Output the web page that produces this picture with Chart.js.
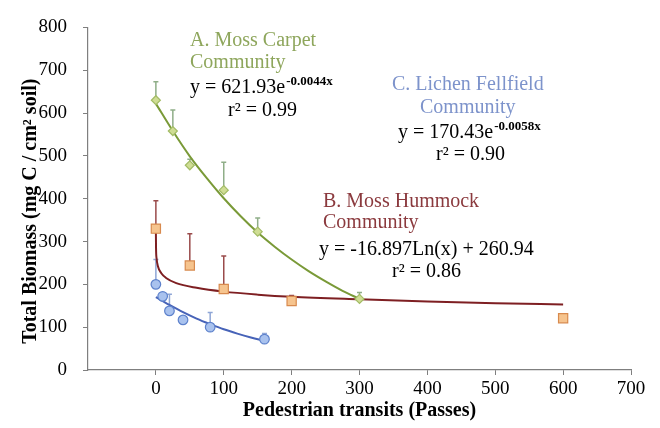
<!DOCTYPE html>
<html>
<head>
<meta charset="utf-8">
<script src="https://cdn.jsdelivr.net/npm/chart.js@4"></script>
<style>
  html, body { margin: 0; padding: 0; background: #ffffff; }
  #wrap { width: 660px; height: 428px; }
</style>
</head>
<body>
<div id="wrap"><canvas id="c" width="660" height="428"></canvas></div>
<script>
// ---- Data ----
const xTickValues = [0, 100, 200, 300, 400, 500, 600, 700];

// A. Moss Carpet community (observations + upper error)
const mossCarpetX = [0, 25, 50, 100, 150, 300];
const mossCarpetY = [630, 558, 478, 420, 323, 166];
const mossCarpetErr = [43, 49, 14, 65, 32, 15];
// A. fitted curve
const mossCarpetFitX = [0, 25, 50, 75, 100, 125, 150, 175, 200, 225, 250, 275, 300];
const mossCarpetFitY = [622, 558, 499, 448, 401, 359, 321, 288, 258, 231, 207, 185, 166];

// B. Moss Hummock community
const mossHummockX = [0, 50, 100, 200, 600];
const mossHummockY = [330, 244, 189, 161, 121];
const mossHummockErr = [65, 74, 77, 13, 0];
const mossHummockFitX = [0.02, 0.2, 1, 3, 8, 15, 30, 60, 100, 150, 200, 300, 400, 500, 600];
const mossHummockFitY = [327, 288, 261, 242, 226, 215, 203, 192, 183, 176, 171, 165, 160, 156, 153];

// C. Lichen Fellfield community
const lichenX = [0, 10, 20, 40, 80, 160];
const lichenY = [200, 172, 138, 117, 100, 72];
const lichenErr = [58, 0, 39, 0, 34, 13];
const lichenFitX = [0, 20, 40, 60, 80, 100, 120, 140, 160];
const lichenFitY = [170, 152, 135, 120, 107, 95, 85, 76, 68];

const pts = (xs, ys) => xs.map((x, i) => ({ x: x, y: ys[i] }));

const SERIF = "'Liberation Serif', 'Times New Roman', serif";

const errorBarPlugin = {
  id: 'errorBars',
  beforeDatasetsDraw(chart) {
    const ctx = chart.ctx;
    const xs = chart.scales.x, ys = chart.scales.y;
    const groups = [
      { x: mossCarpetX, y: mossCarpetY, e: mossCarpetErr, color: '#8FAE88' },
      { x: mossHummockX, y: mossHummockY, e: mossHummockErr, color: '#9A4B4B' },
      { x: lichenX, y: lichenY, e: lichenErr, color: '#8FA6D6' }
    ];
    ctx.save();
    ctx.lineWidth = 1.5;
    groups.forEach(g => {
      ctx.strokeStyle = g.color;
      g.x.forEach((xv, i) => {
        if (!g.e[i]) return;
        const px = xs.getPixelForValue(xv);
        const p0 = ys.getPixelForValue(g.y[i]);
        const p1 = ys.getPixelForValue(g.y[i] + g.e[i]);
        ctx.beginPath();
        ctx.moveTo(px, p0);
        ctx.lineTo(px, p1);
        ctx.moveTo(px - 2.5, p1);
        ctx.lineTo(px + 2.5, p1);
        ctx.stroke();
      });
    });
    ctx.restore();
  }
};

function drawEq(ctx, x, cy, main, sup, supDy) {
  ctx.font = '20px ' + SERIF;
  ctx.fillStyle = '#000000';
  ctx.fillText(main, x, cy);
  const w = ctx.measureText(main).width;
  ctx.font = 'bold 13px ' + SERIF;
  ctx.fillText(sup, x + w + 1, cy + supDy);
}

const textPlugin = {
  id: 'annotText',
  afterDraw(chart) {
    const ctx = chart.ctx;
    ctx.save();
    ctx.textBaseline = 'middle';
    ctx.textAlign = 'left';
    // A
    ctx.font = '20px ' + SERIF;
    ctx.fillStyle = '#8EA65C';
    ctx.fillText('A. Moss Carpet', 190, 41);
    ctx.fillText('Community', 190, 63);
    drawEq(ctx, 190, 88, 'y = 621.93e', '-0.0044x', -6);
    ctx.font = '20px ' + SERIF;
    ctx.fillStyle = '#000000';
    ctx.fillText('r\u00B2 = 0.99', 228, 111);
    // C
    ctx.fillStyle = '#7D93CB';
    ctx.fillText('C. Lichen Fellfield', 392, 85);
    ctx.fillText('Community', 420, 108);
    drawEq(ctx, 398, 133, 'y = 170.43e', '-0.0058x', -6);
    ctx.font = '20px ' + SERIF;
    ctx.fillStyle = '#000000';
    ctx.fillText('r\u00B2 = 0.90', 436, 155);
    // B
    ctx.fillStyle = '#8B3A3E';
    ctx.fillText('B. Moss Hummock', 323, 202);
    ctx.fillText('Community', 323, 223);
    ctx.fillStyle = '#000000';
    ctx.fillText('y = -16.897Ln(x) + 260.94', 319, 250);
    ctx.fillText('r\u00B2 = 0.86', 392, 272);
    ctx.restore();
  }
};

new Chart(document.getElementById('c'), {
  type: 'scatter',
  data: {
    datasets: [
      {
        label: 'A. Moss Carpet',
        data: pts(mossCarpetX, mossCarpetY),
        pointStyle: 'rectRot',
        pointRadius: 4.5,
        pointBackgroundColor: '#CFDD94',
        pointBorderColor: '#A3BC66',
        pointBorderWidth: 1.2,
        showLine: false,
        order: 1
      },
      {
        label: 'B. Moss Hummock',
        data: pts(mossHummockX, mossHummockY),
        pointStyle: 'rect',
        pointRadius: 6.5,
        pointBackgroundColor: '#F6C48E',
        pointBorderColor: '#D88A4E',
        pointBorderWidth: 1.2,
        showLine: false,
        order: 1
      },
      {
        label: 'C. Lichen Fellfield',
        data: pts(lichenX, lichenY),
        pointStyle: 'circle',
        pointRadius: 4.8,
        pointBackgroundColor: '#A9C2EE',
        pointBorderColor: '#5E82CC',
        pointBorderWidth: 1.2,
        showLine: false,
        order: 1
      },
      {
        label: 'A fit',
        data: pts(mossCarpetFitX, mossCarpetFitY),
        showLine: true,
        borderColor: '#7A9A38',
        borderWidth: 2,
        pointRadius: 0,
        cubicInterpolationMode: 'monotone',
        order: 2
      },
      {
        label: 'B fit',
        data: pts(mossHummockFitX, mossHummockFitY),
        showLine: true,
        borderColor: '#7E1F22',
        borderWidth: 2,
        pointRadius: 0,
        cubicInterpolationMode: 'monotone',
        order: 2
      },
      {
        label: 'C fit',
        data: pts(lichenFitX, lichenFitY),
        showLine: true,
        borderColor: '#4763B8',
        borderWidth: 2,
        pointRadius: 0,
        cubicInterpolationMode: 'monotone',
        order: 2
      }
    ]
  },
  options: {
    responsive: false,
    animation: false,
    devicePixelRatio: 1,
    layout: { padding: { left: 0, right: 29, top: 17, bottom: 0 } },
    plugins: {
      legend: { display: false },
      tooltip: { enabled: false }
    },
    scales: {
      x: {
        type: 'linear',
        min: -100,
        max: 700,
        afterBuildTicks(scale) {
          scale.ticks = [-100].concat(xTickValues).map(v => ({ value: v }));
        },
        afterFit(scale) { scale.height = 58; },
        ticks: {
          callback: v => (v < 0 ? null : String(v)),
          font: { family: SERIF, size: 19 },
          color: '#000000',
          padding: 3,
          maxRotation: 0,
          autoSkip: false
        },
        grid: { drawOnChartArea: false, drawTicks: true, tickLength: 5, color: '#7F7F7F' },
        border: { color: '#7F7F7F', width: 1.2 },
        title: {
          display: true,
          text: 'Pedestrian transits (Passes)',
          font: { family: SERIF, size: 20, weight: 'bold' },
          color: '#000000',
          padding: { top: 0, bottom: 5 }
        }
      },
      y: {
        type: 'linear',
        min: 0,
        max: 800,
        afterFit(scale) { scale.width = 88; },
        ticks: {
          stepSize: 100,
          font: { family: SERIF, size: 19 },
          color: '#000000',
          padding: 16
        },
        grid: { drawOnChartArea: false, drawTicks: true, tickLength: 5, color: '#7F7F7F' },
        border: { color: '#7F7F7F', width: 1.2 },
        title: {
          display: true,
          text: 'Total Biomass (mg C / cm\u00B2 soil)     ',
          font: { family: SERIF, size: 20, weight: 'bold' },
          color: '#000000',
          padding: { top: 19, bottom: 0 }
        }
      }
    }
  },
  plugins: [errorBarPlugin, textPlugin]
});
</script>
</body>
</html>
